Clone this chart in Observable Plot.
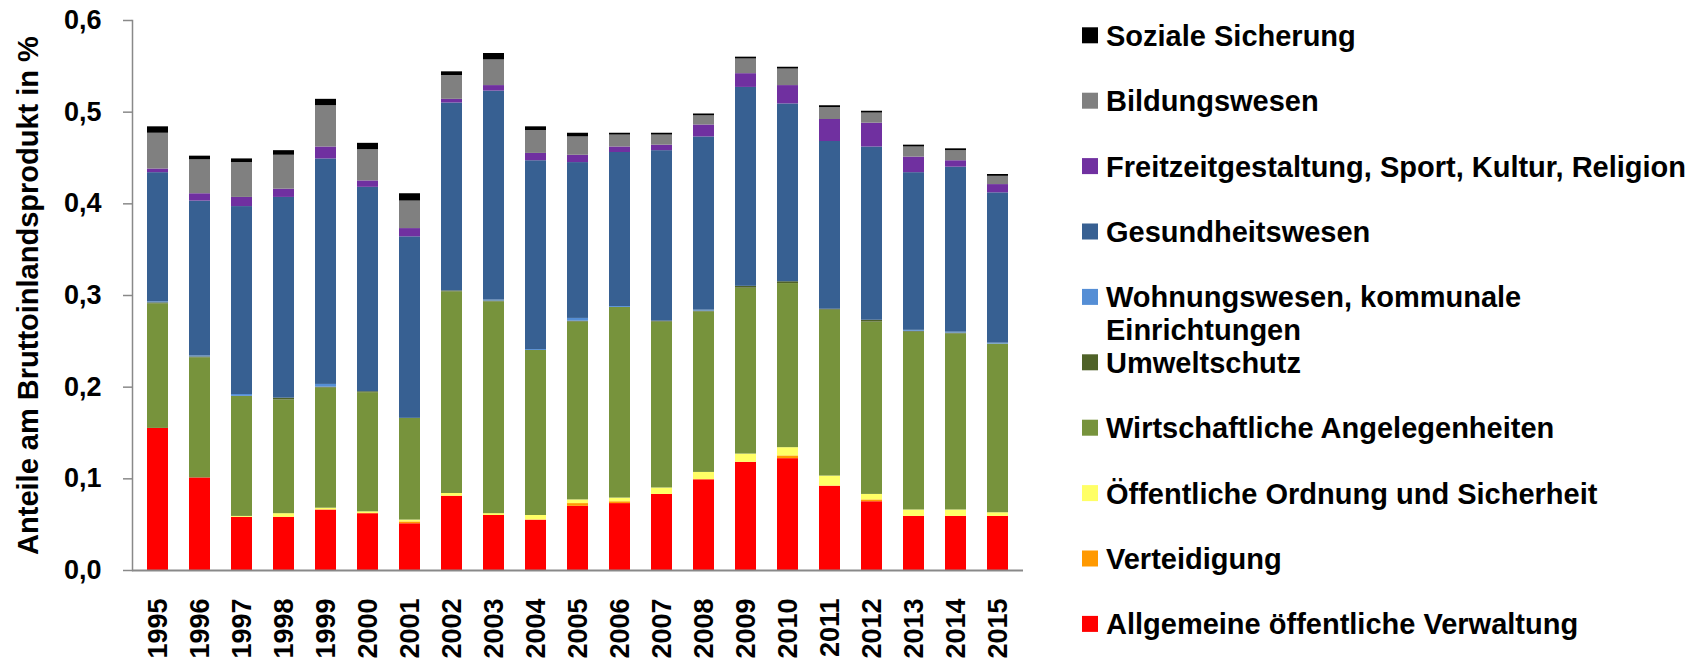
<!DOCTYPE html>
<html>
<head>
<meta charset="utf-8">
<script src="https://cdn.jsdelivr.net/npm/d3@7"></script>
<script src="https://cdn.jsdelivr.net/npm/@observablehq/plot@0.6"></script>
<style>
  html, body { margin: 0; padding: 0; background: #fff; }
  #wrap { position: relative; width: 1694px; height: 662px; overflow: hidden; }
  #chart { position: absolute; left: 0; top: 0; }
  #legend { position: absolute; left: 1060px; top: 0; }
</style>
</head>
<body>
<div id="wrap"><div id="chart"></div><svg id="legend" width="634" height="662"></svg></div>
<script>
const years = ["1995","1996","1997","1998","1999","2000","2001","2002","2003","2004","2005","2006","2007","2008","2009","2010","2011","2012","2013","2014","2015"];

const seriesNames = [
  "Allgemeine öffentliche Verwaltung",
  "Verteidigung",
  "Öffentliche Ordnung und Sicherheit",
  "Wirtschaftliche Angelegenheiten",
  "Umweltschutz",
  "Wohnungswesen, kommunale Einrichtungen",
  "Gesundheitswesen",
  "Freitzeitgestaltung, Sport, Kultur, Religion",
  "Bildungswesen",
  "Soziale Sicherung"
];
const seriesColors = ["#FF0000","#FF9900","#FFFF66","#77933C","#4F6228","#558ED5","#376092","#7030A0","#808080","#000000"];

const allgemeine   = [0.155,0.101,0.058,0.058,0.066,0.062,0.051,0.081,0.060,0.055,0.070,0.073,0.083,0.099,0.118,0.122,0.092,0.075,0.059,0.059,0.059];
const verteidigung = [0,0,0,0,0,0,0.002,0,0,0,0.003,0.002,0,0,0,0.003,0,0.002,0,0,0];
const ordnung      = [0,0,0.001,0.004,0.002,0.002,0.002,0.003,0.002,0.005,0.004,0.004,0.007,0.008,0.009,0.009,0.011,0.006,0.007,0.007,0.004];
const wirtschaft   = [0.136,0.131,0.131,0.124,0.131,0.130,0.111,0.220,0.231,0.180,0.194,0.208,0.181,0.175,0.181,0.179,0.181,0.188,0.194,0.192,0.184];
const umwelt       = [0.001,0.001,0,0.002,0.001,0.001,0,0.001,0.001,0,0.001,0,0.001,0.001,0.002,0.002,0.001,0.002,0.001,0.001,0];
const wohnung      = [0.001,0.001,0.002,0,0.003,0,0,0,0.001,0.001,0.003,0.001,0,0.001,0,0,0,0,0.001,0.001,0.001];
const gesundheit   = [0.141,0.169,0.205,0.219,0.246,0.223,0.198,0.205,0.228,0.206,0.170,0.168,0.186,0.189,0.217,0.194,0.183,0.189,0.172,0.180,0.164];
const freizeit     = [0.004,0.008,0.010,0.009,0.013,0.007,0.009,0.004,0.006,0.008,0.008,0.006,0.006,0.013,0.015,0.020,0.024,0.026,0.017,0.007,0.009];
const bildung      = [0.039,0.037,0.038,0.037,0.045,0.034,0.030,0.026,0.028,0.025,0.020,0.013,0.011,0.010,0.016,0.018,0.013,0.011,0.011,0.011,0.009];
const sozial       = [0.007,0.004,0.004,0.005,0.007,0.007,0.008,0.004,0.007,0.004,0.004,0.002,0.002,0.002,0.002,0.002,0.002,0.002,0.002,0.002,0.002];

const yTicks = [0, 0.1, 0.2, 0.3, 0.4, 0.5, 0.6];
const yTitle = "Anteile am Bruttoinlandsprodukt in %";

const seriesValues = [allgemeine, verteidigung, ordnung, wirtschaft, umwelt, wohnung, gesundheit, freizeit, bildung, sozial];
const data = [];
seriesNames.forEach((s, i) => years.forEach((yr, j) => data.push({year: yr, series: s, value: seriesValues[i][j]})));

const FONT = "'Liberation Sans', Arial, sans-serif";
const GRAY = "#898989";

const chart = Plot.plot({
  width: 1060,
  height: 662,
  marginLeft: 132,
  marginRight: 37,
  marginTop: 20,
  marginBottom: 92,
  style: {fontFamily: FONT, background: "white", color: "black"},
  x: {type: "band", domain: years, paddingInner: 0.49, paddingOuter: 0.245, label: null},
  y: {domain: [0, 0.6], label: null},
  color: {domain: seriesNames, range: seriesColors},
  marks: [
    Plot.barY(data, {x: "year", y: "value", fill: "series", order: seriesNames}),
    Plot.frame({anchor: "left", stroke: GRAY, strokeWidth: 1.5}),
    Plot.ruleY([0], {stroke: GRAY, strokeWidth: 2}),
    Plot.axisY({ticks: yTicks, tickFormat: d => d.toFixed(1).replace(".", ","), tickSize: 9, tickPadding: 22,
      stroke: GRAY, strokeWidth: 1.5, fill: "black", fontSize: 27, fontWeight: "bold", label: null}),
    Plot.axisX({tickSize: 0, tickPadding: 28, tickRotate: -90, fontSize: 27, fontWeight: "bold", fill: "black", label: null}),
    Plot.text([yTitle], {frameAnchor: "left", dx: -104, rotate: -90, textAnchor: "middle", fontSize: 29, fontWeight: "bold", fill: "black"})
  ]
});
document.getElementById("chart").appendChild(chart);

// legend (top to bottom: reverse stacking order)
const legend = d3.select("#legend").style("font-family", FONT);
const legendItems = seriesNames.map((s, i) => ({name: s, color: seriesColors[i]})).reverse();
const rowStart = 35.3, rowStep = 65.4, swX = 22, txtX = 46, fs = 29;
legendItems.forEach((d, i) => {
  const cy = rowStart + i * rowStep;
  legend.append("rect").attr("x", swX).attr("y", cy - 8).attr("width", 16).attr("height", 16).attr("fill", d.color);
  const t = legend.append("text").attr("x", txtX).attr("y", cy + 10.4)
    .attr("font-size", fs).attr("font-weight", "bold").attr("fill", "black");
  if (d.name === "Wohnungswesen, kommunale Einrichtungen") {
    t.append("tspan").attr("x", txtX).text("Wohnungswesen, kommunale");
    t.append("tspan").attr("x", txtX).attr("dy", 33).text("Einrichtungen");
  } else {
    t.text(d.name);
  }
});
</script>
</body>
</html>
